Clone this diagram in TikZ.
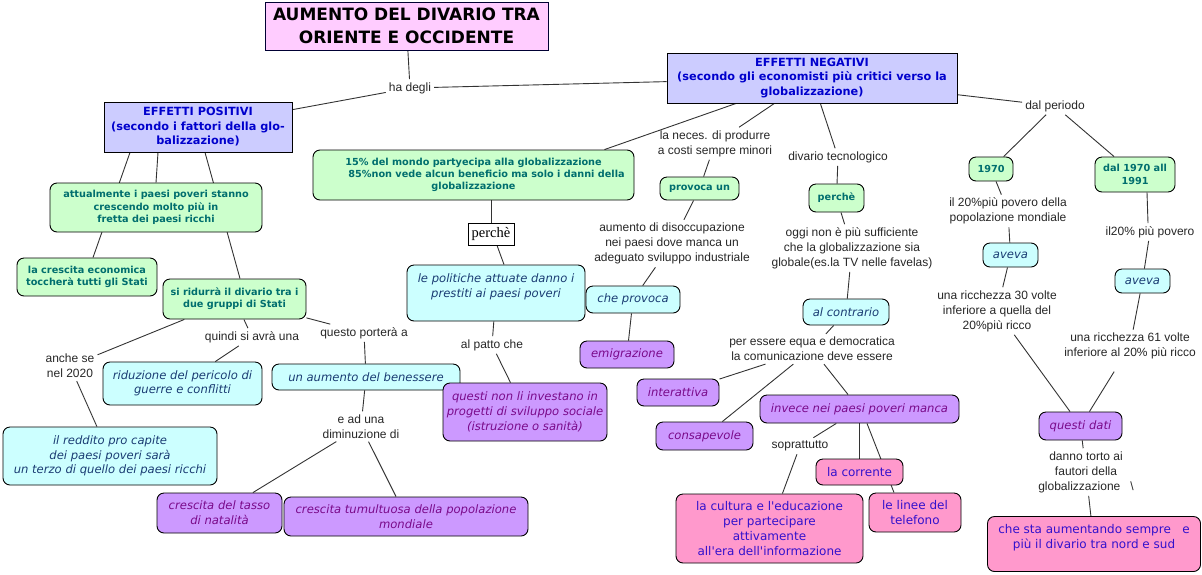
\documentclass[tikz,border=0pt]{standalone}
\usepackage{fontspec}
\setmainfont{Liberation Sans}
\newfontfamily\verd{DejaVu Sans}
\newfontfamily\tms{Liberation Serif}
\usetikzlibrary{backgrounds}

\definecolor{titlefill}{HTML}{FFCCFF}
\definecolor{bluefill}{HTML}{CCCCFF}
\definecolor{bluetext}{HTML}{0000CC}
\definecolor{greenfill}{HTML}{CCFFCC}
\definecolor{greentext}{HTML}{006E6E}
\definecolor{cyanfill}{HTML}{CCFFFF}
\definecolor{cyantext}{HTML}{1A3C73}
\definecolor{purplefill}{HTML}{CC99FF}
\definecolor{purpletext}{HTML}{7A0A8A}
\definecolor{pinkfill}{HTML}{FF99CC}
\definecolor{pinktext}{HTML}{3311CC}
\definecolor{linkgray}{HTML}{333333}

\begin{document}
\begin{tikzpicture}[
    x=1pt, y=-1pt,
    link/.style    = {line width=0.9pt, linkgray},
    lbl/.style     = {inner sep=3pt, align=center, text=black!85,
                      font=\fontsize{12}{15}\selectfont},
    concept/.style = {draw=black, line width=0.9pt, align=center, inner sep=2pt},
    rnd/.style     = {concept, rounded corners=7pt},
    titlebox/.style= {concept, fill=titlefill, draw=black!80!blue,
                      font=\verd\bfseries\fontsize{17}{23}\selectfont},
    effetti/.style = {concept, fill=bluefill, text=bluetext,
                      font=\verd\bfseries\fontsize{11.3}{14.5}\selectfont},
    gbox/.style    = {rnd, fill=greenfill, text=greentext,
                      font=\verd\bfseries\fontsize{9.7}{12.3}\selectfont},
    cbox/.style    = {rnd, fill=cyanfill, text=cyantext,
                      font=\verd\itshape\fontsize{11.6}{14.5}\selectfont},
    pbox/.style    = {rnd, fill=purplefill, text=purpletext,
                      font=\verd\itshape\fontsize{11.6}{15}\selectfont},
    kbox/.style    = {rnd, fill=pinkfill, text=pinktext,
                      font=\verd\fontsize{12}{14.7}\selectfont},
    plainbox/.style= {draw=black, line width=0.7pt, fill=white, inner sep=2pt,
                      font=\tms\fontsize{14.5}{16}\selectfont},
  ]
  \useasboundingbox (0,0) rectangle (1202,574);

  % --- title and the two main branches -------------------------------------
  \node[titlebox, minimum width=283pt, minimum height=48pt] (title) at (406.5,26)
    {AUMENTO DEL DIVARIO TRA\\ORIENTE E OCCIDENTE};
  \node[lbl] (hadegli) at (410,88) {ha degli};
  \node[effetti, minimum width=188pt, minimum height=50pt] (ep) at (198,127)
    {EFFETTI POSITIVI\\(secondo i fattori della glo-\\balizzazione)};
  \node[effetti, minimum width=290pt, minimum height=50pt] (en) at (812,78)
    {EFFETTI NEGATIVI\\(secondo gli economisti più critici verso la\\globalizzazione)};

  % --- effetti positivi ----------------------------------------------------
  \node[gbox, minimum width=212pt, minimum height=49pt] (att) at (156,207.5)
    {attualmente i paesi poveri stanno\\crescendo molto più in\\fretta dei paesi ricchi};
  \node[gbox, minimum width=140pt, minimum height=38pt] (cresc) at (87,277)
    {la crescita economica\\toccherà tutti gli Stati};
  \node[gbox, minimum width=143pt, minimum height=40pt] (ridur) at (234.5,299)
    {si ridurrà il divario tra i\\due gruppi di Stati};
  \node[lbl] (anche) at (70,366) {anche se\\nel 2020};
  \node[lbl] (quindi) at (252,337) {quindi si avrà una};
  \node[lbl] (porta) at (364,333) {questo porterà a};
  \node[cbox, minimum width=214pt, minimum height=58pt] (reddito) at (110,456)
    {il reddito pro capite\\dei paesi poveri sarà\\un terzo di quello dei paesi ricchi};
  \node[cbox, minimum width=159pt, minimum height=43pt] (pace) at (182.5,383.5)
    {riduzione del pericolo di\\guerre e conflitti};
  \node[cbox, minimum width=188pt, minimum height=26pt] (benessere) at (366,377)
    {un aumento del benessere};
  \node[lbl] (adUna) at (361,426.5) {e ad una\\diminuzione di};
  \node[pbox, minimum width=125pt, minimum height=40pt] (natalita) at (219.5,513)
    {crescita del tasso\\di natalità};
  \node[pbox, minimum width=244pt, minimum height=39pt] (popolaz) at (406,516.5)
    {crescita tumultuosa della popolazione\\mondiale};

  % --- effetti negativi: centre of the map ---------------------------------
  \node[gbox, minimum width=321pt, minimum height=50pt] (quota) at (473.5,175)
    {15\% del mondo partyecipa alla globalizzazione\\
     \hspace*{26pt}85\%non vede alcun beneficio ma solo i danni della\\globalizzazione};
  \node[plainbox, minimum width=46pt, minimum height=22pt] (perche1) at (491,234) {perchè};
  \node[cbox, minimum width=178pt, minimum height=56pt] (politiche) at (496,293)
    {le politiche attuate danno i\\prestiti ai paesi poveri\\~};
  \node[lbl] (patto) at (492,345) {al patto che};
  \node[pbox, minimum width=164pt, minimum height=58pt] (sociale) at (525,412)
    {questi non li investano in\\progetti di sviluppo sociale\\(istruzione o sanità)};
  \node[lbl] (neces) at (715,143.5) {la neces. di produrre\\a costi sempre minori};
  \node[gbox, minimum width=79pt, minimum height=23pt] (provoca) at (699.5,188.5) {provoca un};
  \node[lbl] (disocc) at (672,243.5)
    {aumento di disoccupazione\\nei paesi dove manca un\\adeguato sviluppo industriale};
  \node[cbox, minimum width=94pt, minimum height=27pt] (cheprov) at (633,299.5) {che provoca};
  \node[pbox, minimum width=94pt, minimum height=27pt] (emigr) at (627,354.5) {emigrazione};

  % --- divario tecnologico -------------------------------------------------
  \node[lbl] (tecno) at (838,157) {divario tecnologico};
  \node[gbox, minimum width=55pt, minimum height=28pt] (perche2) at (836.5,198) {perchè};
  \node[lbl] (oggi) at (852,248)
    {oggi non è più sufficiente\\che la globalizzazione sia\\globale(es.la TV nelle favelas)};
  \node[cbox, minimum width=86pt, minimum height=26pt] (contrario) at (846,312) {al contrario};
  \node[lbl] (equa) at (812,349)
    {per essere equa e democratica\\la comunicazione deve essere};
  \node[pbox, minimum width=82pt, minimum height=27pt] (interatt) at (678,392.5) {interattiva};
  \node[pbox, minimum width=97pt, minimum height=28pt] (consap) at (704.5,436) {consapevole};
  \node[pbox, minimum width=199pt, minimum height=28pt] (manca) at (859.5,409)
    {invece nei paesi poveri manca};
  \node[lbl] (sopr) at (800,446) {soprattutto};
  \node[kbox, minimum width=87pt, minimum height=26pt] (corrente) at (859.5,472) {la corrente};
  \node[kbox, minimum width=92pt, minimum height=39pt] (telefono) at (915,512.5)
    {le linee del\\telefono};
  \node[kbox, minimum width=187pt, minimum height=69pt] (cultura) at (769.5,528.5)
    {la cultura e l\textquotesingle educazione\\per partecipare\\attivamente\\
     all\textquotesingle era dell\textquotesingle informazione};

  % --- dal periodo ---------------------------------------------------------
  \node[lbl] (periodo) at (1055,106) {dal periodo};
  \node[gbox, minimum width=44pt, minimum height=24pt] (y1970) at (991,169) {1970};
  \node[gbox, minimum width=80pt, minimum height=35pt] (y7091) at (1135,174.5)
    {dal 1970 all\\1991};
  \node[lbl] (pov20) at (1008,211) {il 20\%più povero della\\popolazione mondiale};
  \node[cbox, minimum width=55pt, minimum height=24pt] (aveva1) at (1010.5,255) {aveva};
  \node[lbl] (volte30) at (997,311)
    {una ricchezza 30 volte\\inferiore a quella del\\20\%più ricco};
  \node[lbl] (pov20b) at (1150,232) {il20\% più povero};
  \node[cbox, minimum width=55pt, minimum height=24pt] (aveva2) at (1142.5,281) {aveva};
  \node[lbl] (volte61) at (1130,346)
    {una ricchezza 61 volte\\inferiore al 20\% più ricco};
  \node[pbox, minimum width=83pt, minimum height=28pt] (dati) at (1080.5,426) {questi dati};
  \node[lbl] (torto) at (1086,472)
    {danno torto ai\\fautori della\\globalizzazione\ \ \ \textbackslash};
  \node[kbox, minimum width=213pt, minimum height=55pt] (nordsud) at (1094,544)
    {che sta aumentando sempre\ \ \ e\\più il divario tra nord e sud\\~};

  % --- connectors, kept behind the boxes -----------------------------------
  \begin{scope}[on background layer]
    \foreach \a/\b in {title/hadegli, hadegli/ep, hadegli/en, en/periodo,
        periodo/y1970, periodo/y7091, y1970/pov20, pov20/aveva1,
        aveva1/volte30, volte30/dati, pov20b/aveva2, aveva2/volte61,
        dati/torto, torto/nordsud, en/neces, en/tecno, neces/provoca,
        provoca/disocc, disocc/cheprov, cheprov/emigr, politiche/patto,
        patto/sociale, tecno/perche2, perche2/oggi, oggi/contrario,
        contrario/equa, equa/interatt, equa/consap, equa/manca, manca/sopr,
        manca/corrente, sopr/cultura, ridur/anche, ridur/quindi, ridur/porta,
        anche/reddito, quindi/pace, porta/benessere, benessere/adUna,
        adUna/natalita, adUna/popolaz} {
      \draw[link] (\a) -- (\b);
    }
    \draw[link, shorten <=11pt] (volte61) -- (dati);
    \draw[link] ([xshift=-76pt]en.south) -- ([xshift=131pt]quota.north);
    \draw[link] ([xshift=-40pt]ep.south) -- (att.north);
    \draw[link] ([xshift=-68pt]ep.south) -- ([xshift=6pt]cresc.north);
    \draw[link] ([xshift=7pt]ep.south) -- ([xshift=5.5pt]ridur.north);
    \draw[link] (perche1.north |- quota.south) -- (perche1.north);
    \draw[link] ([xshift=6pt]perche1.south) -- ([xshift=8pt]politiche.north);
    \draw[link] ([xshift=7.5pt]manca.south) -- ([xshift=-21pt]telefono.north);
    \draw[link] ([xshift=12pt]y7091.south) -- ([xshift=-2pt]pov20b.north);
  \end{scope}

\end{tikzpicture}
\end{document}
